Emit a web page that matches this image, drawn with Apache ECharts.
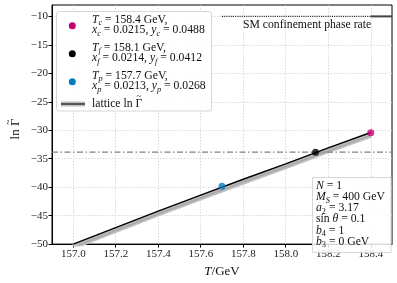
<!DOCTYPE html>
<html><head><meta charset="utf-8">
<script src="https://cdn.jsdelivr.net/npm/echarts@6/dist/echarts.min.js"></script>
<style>html,body{margin:0;padding:0;background:#fff}#c{width:397px;height:283px}</style>
</head><body><div id="c"></div>
<script>
// data
const T = [157.0, 157.2, 157.4, 157.6, 157.8, 158.0, 158.2, 158.4];
const lnGamma = [-50.0, -47.1, -44.2, -41.4, -38.6, -35.9, -33.1, -30.4];
const latticeLnGamma = [-50.5, -47.6, -44.7, -41.9, -39.1, -36.4, -33.6, -30.9];
const pointsT = [158.4, 158.14, 157.7];
const pointsLnG = [-30.45, -33.85, -39.85];
const pointColors = ['#c8006e', '#000000', '#0a78c0'];
const smRate = -10;
const smDottedT = [157.7, 158.4];
const smSolidT = [158.4, 158.5];
const nucleationLevel = -33.85;
const xTicks = [157.0, 157.2, 157.4, 157.6, 157.8, 158.0, 158.2, 158.4];
const yTicks = [-50, -45, -40, -35, -30, -25, -20, -15, -10];
const legendLines = [
  '{i|T}{s|c} = 158.4 GeV,', '{i|x}{s|c} = 0.0215, {i|y}{s|c} = 0.0488',
  '{i|T}{s|f} = 158.1 GeV,', '{i|x}{s|f} = 0.0214, {i|y}{s|f} = 0.0412',
  '{i|T}{s|p} = 157.7 GeV,', '{i|x}{s|p} = 0.0213, {i|y}{s|p} = 0.0268'
];
const paramLines = ['{i|N} = 1', '{i|M}{s|S} = 400 GeV', '{i|a}{n|2} = 3.17', 'sin {i|\u03b8} = 0.1', '{i|b}{n|4} = 1', '{i|b}{n|3} = 0 GeV'];

const FONT = 'Liberation Serif';
const FS = 11.7;
const minus = v => String(v).replace('-', '\u2212');
const chart = echarts.init(document.getElementById('c'), null, {renderer: 'canvas'});
const zip = (a, b) => a.map((v, i) => [v, b[i]]);
const ctx = document.createElement('canvas').getContext('2d');
const measure = (s, size) => { ctx.font = size + 'px "' + FONT + '"'; return ctx.measureText(s).width; };

const rich = {
  i: {fontFamily: FONT, fontSize: FS, fontStyle: 'italic', color: '#111', lineHeight: 13},
  s: {fontFamily: FONT, fontSize: 8.3, fontStyle: 'italic', color: '#111', verticalAlign: 'bottom', lineHeight: 15},
  n: {fontFamily: FONT, fontSize: 8.3, color: '#111', verticalAlign: 'bottom', lineHeight: 15}
};
const txt = (x, y, text) => ({type: 'text', x, y, z: 11, style: {text, fontFamily: FONT, fontSize: FS, fill: '#111', lineHeight: 13, verticalAlign: 'middle', rich}});

// legend "lattice ln Γ~"
const latPre = 'lattice ln ';
const latX = 92, latY = 103.7;
const gX = latX + measure(latPre, FS) + measure('\u0393', FS) / 2;

// y-axis name "ln Γ~" (rotated)
const YN = 13;
const ynW = measure('ln \u0393', YN);
const ynG = -ynW / 2 + measure('ln ', YN) + measure('\u0393', YN) / 2;

const graphics = [
  {type: 'rect', shape: {x: 56.5, y: 11.5, width: 155, height: 99.5, r: 2.5}, style: {fill: 'rgba(255,255,255,0.85)', stroke: '#d6d6d6', lineWidth: 1}, z: 10},
  {type: 'circle', shape: {cx: 72.3, cy: 25.7, r: 3.5}, style: {fill: pointColors[0]}, z: 11},
  {type: 'circle', shape: {cx: 72.3, cy: 53.7, r: 3.5}, style: {fill: pointColors[1]}, z: 11},
  {type: 'circle', shape: {cx: 72.3, cy: 81.7, r: 3.5}, style: {fill: pointColors[2]}, z: 11},
  {type: 'line', shape: {x1: 61, y1: 104, x2: 85, y2: 104}, style: {stroke: '#bdbdbd', lineWidth: 5}, z: 11},
  {type: 'line', shape: {x1: 61, y1: 104, x2: 85, y2: 104}, style: {stroke: '#333', lineWidth: 1.5}, z: 12},
  {type: 'text', x: latX, y: latY, z: 11, style: {text: latPre + '\u0393', fontFamily: FONT, fontSize: FS, fill: '#111', verticalAlign: 'middle'}},
  {type: 'text', x: gX, y: latY - 7.5, z: 11, style: {text: '~', fontFamily: FONT, fontSize: 9, fill: '#111', align: 'center', verticalAlign: 'middle'}},
  txt(243, 25, 'SM confinement phase rate'),
  {type: 'rect', shape: {x: 312.5, y: 177.5, width: 78.5, height: 75}, style: {fill: 'rgba(255,255,255,0.85)', stroke: '#d6d6d6', lineWidth: 1}, z: 10},
  {type: 'group', x: 16, y: 129, rotation: Math.PI / 2, z: 11, children: [
    {type: 'text', x: 0, y: 0, style: {text: 'ln \u0393', fontFamily: FONT, fontSize: YN, fill: '#111', align: 'center', verticalAlign: 'middle'}},
    {type: 'text', x: ynG, y: -8, style: {text: '~', fontFamily: FONT, fontSize: 10, fill: '#111', align: 'center', verticalAlign: 'middle'}}
  ]}
];
const legendY = [19.5, 30, 47.5, 58, 75.5, 86];
legendLines.forEach((t, k) => graphics.push(txt(92, legendY[k], t)));
paramLines.forEach((t, k) => graphics.push(txt(316, 185.7 + k * 11.2, t)));

chart.setOption({
  animation: false,
  grid: {left: 52, right: 5, top: 5, bottom: 31, show: true, borderColor: '#000', borderWidth: 1, backgroundColor: 'transparent'},
  xAxis: {
    type: 'value', min: 156.9, max: 158.5,
    axisLine: {show: true, lineStyle: {color: '#000'}},
    axisTick: {show: true, length: 3.5, customValues: xTicks, lineStyle: {color: '#000'}},
    axisLabel: {customValues: xTicks, formatter: v => v.toFixed(1), fontFamily: FONT, fontSize: 11, color: '#222', margin: 5},
    splitLine: {show: true, lineStyle: {color: '#d0d0d0', type: [1.5, 1.5], width: 0.8}},
    name: '{i|T}/GeV', nameLocation: 'middle', nameGap: 18,
    nameTextStyle: {fontFamily: FONT, fontSize: 13, color: '#111', rich: {i: {fontFamily: FONT, fontSize: 13, fontStyle: 'italic', color: '#111'}}}
  },
  yAxis: {
    type: 'value', min: -50, max: -8,
    axisLine: {show: true, lineStyle: {color: '#000'}},
    axisTick: {show: true, length: 3.5, customValues: yTicks, lineStyle: {color: '#000'}},
    axisLabel: {customValues: yTicks, formatter: v => minus(v), fontFamily: FONT, fontSize: 11, color: '#222', margin: 4},
    splitLine: {show: true, lineStyle: {color: '#d0d0d0', type: [1.5, 1.5], width: 0.8}}
  },
  series: [
    {type: 'line', data: zip(T, latticeLnGamma), symbol: 'none', lineStyle: {color: '#c0c0c0', width: 5}, z: 2},
    {type: 'line', data: zip(T, latticeLnGamma), symbol: 'none', lineStyle: {color: '#a8a8a8', width: 1.5}, z: 2},
    {type: 'line', data: zip([156.9, 158.5], [nucleationLevel, nucleationLevel]), symbol: 'none',
      lineStyle: {color: '#808080', width: 1.3, type: [6, 2.5, 1.5, 2.5]}, z: 3},
    {type: 'line', data: zip(T, lnGamma), symbol: 'none', lineStyle: {color: '#000', width: 1.5}, z: 4},
    {type: 'line', data: zip(smDottedT, [smRate, smRate]), symbol: 'none', lineStyle: {color: '#222', width: 1.2, type: [1, 1.2]}, z: 4},
    {type: 'line', data: zip(smSolidT, [smRate, smRate]), symbol: 'none', lineStyle: {color: '#444', width: 2}, z: 4},
    {type: 'scatter', data: zip(pointsT, pointsLnG).map((d, i) => ({value: d, itemStyle: {color: pointColors[i]}})),
      symbolSize: 7, z: 6}
  ],
  graphic: graphics
});
</script></body></html>
